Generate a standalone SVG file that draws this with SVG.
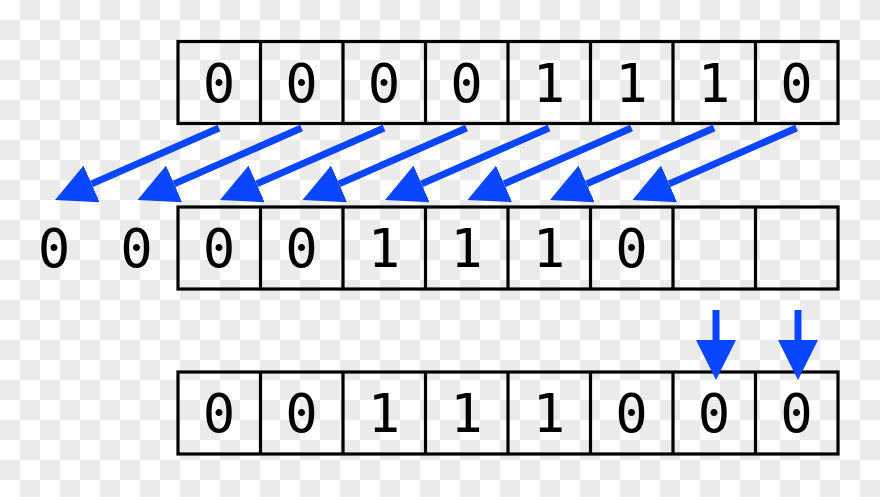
<svg xmlns="http://www.w3.org/2000/svg" width="880" height="497" viewBox="0 0 880 497">
<defs>
<pattern id="chk" width="40" height="40" patternUnits="userSpaceOnUse">
<rect width="40" height="40" fill="#ffffff"/>
<rect x="20" y="0" width="20" height="20" fill="#ebebeb"/>
<rect x="0" y="20" width="20" height="20" fill="#ebebeb"/>
</pattern>
<marker id="ah" viewBox="0 0 40 40" refX="0" refY="20" markerWidth="40" markerHeight="40" markerUnits="userSpaceOnUse" orient="auto">
<path d="M0,0 L40,20 L0,40 Z" fill="#0a46ff"/>
</marker>
</defs>
<style>
.cell{fill:none;stroke:#000;stroke-width:3.2}
.d{font-family:"DejaVu Sans Mono","Liberation Mono",monospace;font-size:54px;fill:#000;text-anchor:middle}
.a{stroke:#0a46ff;stroke-width:7;fill:none;marker-end:url(#ah)}
</style>
<rect width="880" height="497" fill="url(#chk)"/>
<g id="row1">
<rect class="cell" x="178" y="41.5" width="660" height="82"/>
<path class="cell" d="M260.5,41.5V123.5M343,41.5V123.5M425.5,41.5V123.5M508,41.5V123.5M590.5,41.5V123.5M673,41.5V123.5M755.5,41.5V123.5"/>
<text class="d" x="219" y="102">0</text>
<text class="d" x="301.5" y="102">0</text>
<text class="d" x="384" y="102">0</text>
<text class="d" x="466.5" y="102">0</text>
<text class="d" x="549" y="102">1</text>
<text class="d" x="631.5" y="102">1</text>
<text class="d" x="714" y="102">1</text>
<text class="d" x="796.5" y="102">0</text>
</g>
<g id="row2">
<rect class="cell" x="178" y="207" width="660" height="82"/>
<path class="cell" d="M260.5,207V289M343,207V289M425.5,207V289M508,207V289M590.5,207V289M673,207V289M755.5,207V289"/>
<text class="d" x="54" y="267">0</text>
<text class="d" x="136.5" y="267">0</text>
<text class="d" x="219" y="267">0</text>
<text class="d" x="301.5" y="267">0</text>
<text class="d" x="384" y="267">1</text>
<text class="d" x="466.5" y="267">1</text>
<text class="d" x="549" y="267">1</text>
<text class="d" x="631.5" y="267">0</text>
</g>
<g id="row3">
<rect class="cell" x="178" y="372" width="660" height="82"/>
<path class="cell" d="M260.5,372V454M343,372V454M425.5,372V454M508,372V454M590.5,372V454M673,372V454M755.5,372V454"/>
<text class="d" x="219" y="432">0</text>
<text class="d" x="301.5" y="432">0</text>
<text class="d" x="384" y="432">1</text>
<text class="d" x="466.5" y="432">1</text>
<text class="d" x="549" y="432">1</text>
<text class="d" x="631.5" y="432">0</text>
<text class="d" x="714" y="432">0</text>
<text class="d" x="796.5" y="432">0</text>
</g>
<g id="connectors">
<path class="a" d="M219,128 L91.6,183.9"/>
<path class="a" d="M301.5,128 L174.1,183.9"/>
<path class="a" d="M384,128 L256.6,183.9"/>
<path class="a" d="M466.5,128 L339.1,183.9"/>
<path class="a" d="M549,128 L421.6,183.9"/>
<path class="a" d="M631.5,128 L504.1,183.9"/>
<path class="a" d="M714,128 L586.6,183.9"/>
<path class="a" d="M796.5,128 L669.1,183.9"/>
<path class="a" d="M716,310 L716,340"/>
<path class="a" d="M798,310 L798,340"/>
</g>
</svg>
